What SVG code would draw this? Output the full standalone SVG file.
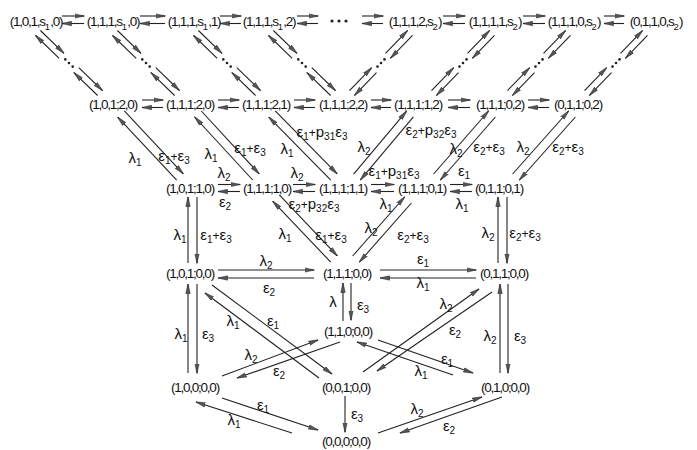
<svg xmlns="http://www.w3.org/2000/svg" xmlns:xlink="http://www.w3.org/1999/xlink" width="697" height="450" viewBox="0 0 697 450">
<style>
.n{font-family:"Liberation Sans",Arial,sans-serif;font-size:13.5px;letter-spacing:-1.25px;fill:#111;text-anchor:middle}
.ns{font-size:9.5px;letter-spacing:0}
.g{font-family:"Liberation Sans",Arial,sans-serif;font-size:15px;fill:#111;text-anchor:middle}
.s{font-size:10px}
.p{font-size:12px}
line{stroke:#222;stroke-width:1.1;fill:none}
circle{fill:#222}
</style>
<defs>
<marker id="a" markerUnits="userSpaceOnUse" markerWidth="10" markerHeight="6" viewBox="0 0 10 6" refX="9.5" refY="3" orient="auto"><path d="M0,0.8 L10,3 L0,5.2 Z" fill="#555" stroke="#222" stroke-width="0.5"/></marker>
<g id="dl">
<line x1="21.2" y1="25.3" x2="-2.4" y2="2.5" marker-end="url(#a)"/>
<line x1="59.6" y1="62.5" x2="36" y2="39.7" marker-end="url(#a)"/>
<line x1="2.4" y1="-2.5" x2="26" y2="20.3" marker-end="url(#a)"/>
<line x1="40.8" y1="34.7" x2="64.4" y2="57.5" marker-end="url(#a)"/>
<circle cx="27.3" cy="26.4" r="1.3"/><circle cx="31" cy="30" r="1.3"/><circle cx="34.7" cy="33.6" r="1.3"/>
</g>
<g id="dr">
<line x1="-24.5" y1="20.4" x2="-2.5" y2="-2.4" marker-end="url(#a)"/>
<line x1="-60.5" y1="57.6" x2="-38.5" y2="34.8" marker-end="url(#a)"/>
<line x1="2.5" y1="2.4" x2="-19.5" y2="25.2" marker-end="url(#a)"/>
<line x1="-33.5" y1="39.6" x2="-55.5" y2="62.4" marker-end="url(#a)"/>
<circle cx="-25.5" cy="26.4" r="1.3"/><circle cx="-29" cy="30" r="1.3"/><circle cx="-32.5" cy="33.6" r="1.3"/>
</g>
</defs>
<rect width="697" height="450" fill="#fff"/>

<g id="connectors">
<line x1="62" y1="16" x2="84" y2="16" marker-end="url(#a)"/><line x1="84" y1="23.5" x2="62" y2="23.5" marker-end="url(#a)"/>
<line x1="140" y1="16" x2="165" y2="16" marker-end="url(#a)"/><line x1="165" y1="23.5" x2="140" y2="23.5" marker-end="url(#a)"/>
<line x1="220" y1="16" x2="241" y2="16" marker-end="url(#a)"/><line x1="241" y1="23.5" x2="220" y2="23.5" marker-end="url(#a)"/>
<line x1="297" y1="16" x2="318" y2="16" marker-end="url(#a)"/><line x1="318" y1="23.5" x2="297" y2="23.5" marker-end="url(#a)"/>
<line x1="362" y1="16" x2="383" y2="16" marker-end="url(#a)"/><line x1="383" y1="23.5" x2="362" y2="23.5" marker-end="url(#a)"/>
<line x1="443" y1="16" x2="465" y2="16" marker-end="url(#a)"/><line x1="465" y1="23.5" x2="443" y2="23.5" marker-end="url(#a)"/>
<line x1="523" y1="16" x2="545" y2="16" marker-end="url(#a)"/><line x1="545" y1="23.5" x2="523" y2="23.5" marker-end="url(#a)"/>
<line x1="604" y1="16" x2="624" y2="16" marker-end="url(#a)"/><line x1="624" y1="23.5" x2="604" y2="23.5" marker-end="url(#a)"/>
<use xlink:href="#dl" transform="translate(38,33)"/>
<use xlink:href="#dl" transform="translate(115,33)"/>
<use xlink:href="#dl" transform="translate(196,33)"/>
<use xlink:href="#dl" transform="translate(271,33)"/>
<use xlink:href="#dr" transform="translate(410,33)"/>
<use xlink:href="#dr" transform="translate(492,33)"/>
<use xlink:href="#dr" transform="translate(568,33)"/>
<use xlink:href="#dr" transform="translate(645,33)"/>
<line x1="142" y1="100" x2="163" y2="100" marker-end="url(#a)"/><line x1="163" y1="107.5" x2="142" y2="107.5" marker-end="url(#a)"/>
<line x1="218" y1="100" x2="239" y2="100" marker-end="url(#a)"/><line x1="239" y1="107.5" x2="218" y2="107.5" marker-end="url(#a)"/>
<line x1="294" y1="100" x2="315" y2="100" marker-end="url(#a)"/><line x1="315" y1="107.5" x2="294" y2="107.5" marker-end="url(#a)"/>
<line x1="371" y1="100" x2="391" y2="100" marker-end="url(#a)"/><line x1="391" y1="107.5" x2="371" y2="107.5" marker-end="url(#a)"/>
<line x1="448" y1="100" x2="470" y2="100" marker-end="url(#a)"/><line x1="470" y1="107.5" x2="448" y2="107.5" marker-end="url(#a)"/>
<line x1="528" y1="100" x2="549" y2="100" marker-end="url(#a)"/><line x1="549" y1="107.5" x2="528" y2="107.5" marker-end="url(#a)"/>
<line x1="176.7" y1="180.1" x2="117.7" y2="117.1" marker-end="url(#a)"/><line x1="124.3" y1="110.9" x2="183.3" y2="173.9" marker-end="url(#a)"/>
<line x1="252.7" y1="180" x2="194.7" y2="117" marker-end="url(#a)"/><line x1="201.3" y1="111" x2="259.3" y2="174" marker-end="url(#a)"/>
<line x1="330.8" y1="180.1" x2="268.8" y2="117.1" marker-end="url(#a)"/><line x1="275.2" y1="110.9" x2="337.2" y2="173.9" marker-end="url(#a)"/>
<line x1="353.6" y1="174.1" x2="406.6" y2="111.1" marker-end="url(#a)"/><line x1="413.4" y1="116.9" x2="360.4" y2="179.9" marker-end="url(#a)"/>
<line x1="433.6" y1="174" x2="488.6" y2="111" marker-end="url(#a)"/><line x1="495.4" y1="117" x2="440.4" y2="180" marker-end="url(#a)"/>
<line x1="512.6" y1="174" x2="568.6" y2="111" marker-end="url(#a)"/><line x1="575.4" y1="117" x2="519.4" y2="180" marker-end="url(#a)"/>
<line x1="218" y1="184.5" x2="240" y2="184.5" marker-end="url(#a)"/><line x1="240" y1="191.5" x2="218" y2="191.5" marker-end="url(#a)"/>
<line x1="293" y1="184.5" x2="315" y2="184.5" marker-end="url(#a)"/><line x1="315" y1="191.5" x2="293" y2="191.5" marker-end="url(#a)"/>
<line x1="371" y1="184.5" x2="394" y2="184.5" marker-end="url(#a)"/><line x1="394" y1="191.5" x2="371" y2="191.5" marker-end="url(#a)"/>
<line x1="450" y1="184.5" x2="472" y2="184.5" marker-end="url(#a)"/><line x1="472" y1="191.5" x2="450" y2="191.5" marker-end="url(#a)"/>
<line x1="188" y1="263" x2="188" y2="197" marker-end="url(#a)"/><line x1="197" y1="197" x2="197" y2="263" marker-end="url(#a)"/>
<line x1="330.7" y1="262.1" x2="272.7" y2="201.1" marker-end="url(#a)"/><line x1="279.3" y1="194.9" x2="337.3" y2="255.9" marker-end="url(#a)"/>
<line x1="352.6" y1="256" x2="404.6" y2="197" marker-end="url(#a)"/><line x1="411.4" y1="203" x2="359.4" y2="262" marker-end="url(#a)"/>
<line x1="498" y1="263" x2="498" y2="197" marker-end="url(#a)"/><line x1="507" y1="197" x2="507" y2="263" marker-end="url(#a)"/>
<line x1="218" y1="270" x2="314" y2="270" marker-end="url(#a)"/><line x1="314" y1="278" x2="218" y2="278" marker-end="url(#a)"/>
<line x1="380" y1="270" x2="476" y2="270" marker-end="url(#a)"/><line x1="476" y1="278" x2="380" y2="278" marker-end="url(#a)"/>
<line x1="343" y1="321" x2="343" y2="283" marker-end="url(#a)"/><line x1="351" y1="283" x2="351" y2="320" marker-end="url(#a)"/>
<line x1="188" y1="373" x2="188" y2="284" marker-end="url(#a)"/><line x1="197" y1="284" x2="197" y2="373" marker-end="url(#a)"/>
<line x1="500" y1="373" x2="500" y2="284" marker-end="url(#a)"/><line x1="508" y1="284" x2="508" y2="373" marker-end="url(#a)"/>
<line x1="212" y1="285" x2="332" y2="374" marker-end="url(#a)"/><line x1="319" y1="378" x2="205" y2="293" marker-end="url(#a)"/>
<line x1="363" y1="372" x2="479" y2="289" marker-end="url(#a)"/><line x1="492" y1="292" x2="377" y2="371" marker-end="url(#a)"/>
<line x1="222" y1="376" x2="318" y2="340" marker-end="url(#a)"/><line x1="340" y1="342" x2="237" y2="378" marker-end="url(#a)"/>
<line x1="378" y1="340" x2="473" y2="373" marker-end="url(#a)"/><line x1="453" y1="375" x2="357" y2="342" marker-end="url(#a)"/>
<line x1="222" y1="398" x2="318" y2="430" marker-end="url(#a)"/><line x1="292" y1="433" x2="196" y2="402" marker-end="url(#a)"/>
<line x1="378" y1="433" x2="482" y2="397" marker-end="url(#a)"/><line x1="502" y1="397" x2="400" y2="433" marker-end="url(#a)"/>
<line x1="345" y1="396" x2="345" y2="432" marker-end="url(#a)"/>
</g>

<g id="n101s10"><text class="n" x="36" y="26">(1,0,1,s<tspan class="ns" dy="4">1</tspan><tspan dy="-4">,0)</tspan></text></g>
<g id="n111s10"><text class="n" x="113" y="26">(1,1,1,s<tspan class="ns" dy="4">1</tspan><tspan dy="-4">,0)</tspan></text></g>
<g id="n111s11"><text class="n" x="194" y="26">(1,1,1,s<tspan class="ns" dy="4">1</tspan><tspan dy="-4">,1)</tspan></text></g>
<g id="n111s12"><text class="n" x="269" y="26">(1,1,1,s<tspan class="ns" dy="4">1</tspan><tspan dy="-4">,2)</tspan></text></g>
<g id="ellipsis"><circle cx="332" cy="21" r="1.6"/><circle cx="339" cy="21" r="1.6"/><circle cx="346" cy="21" r="1.6"/></g>
<g id="n1112s2"><text class="n" x="415" y="26">(1,1,1,2,s<tspan class="ns" dy="4">2</tspan><tspan dy="-4">)</tspan></text></g>
<g id="n1111s2"><text class="n" x="495" y="26">(1,1,1,1,s<tspan class="ns" dy="4">2</tspan><tspan dy="-4">)</tspan></text></g>
<g id="n1110s2"><text class="n" x="574" y="26">(1,1,1,0,s<tspan class="ns" dy="4">2</tspan><tspan dy="-4">)</tspan></text></g>
<g id="n0110s2"><text class="n" x="656" y="26">(0,1,1,0,s<tspan class="ns" dy="4">2</tspan><tspan dy="-4">)</tspan></text></g>

<g id="n101_20"><text class="n" x="113" y="109">(1,0,1;2,0)</text></g>
<g id="n111_20"><text class="n" x="190" y="109">(1,1,1;2,0)</text></g>
<g id="n111_21"><text class="n" x="266" y="109">(1,1,1;2,1)</text></g>
<g id="n111_22"><text class="n" x="343" y="109">(1,1,1;2,2)</text></g>
<g id="n111_12"><text class="n" x="418" y="109">(1,1,1;1,2)</text></g>
<g id="n111_02"><text class="n" x="500" y="109">(1,1,1;0,2)</text></g>
<g id="n011_02"><text class="n" x="578" y="109">(0,1,1;0,2)</text></g>

<g id="n101_10"><text class="n" x="190" y="193">(1,0,1;1,0)</text></g>
<g id="n111_10"><text class="n" x="267" y="193">(1,1,1;1,0)</text></g>
<g id="n111_11"><text class="n" x="343" y="193">(1,1,1;1,1)</text></g>
<g id="n111_01"><text class="n" x="422" y="193">(1,1,1;0,1)</text></g>
<g id="n011_01"><text class="n" x="499" y="193">(0,1,1;0,1)</text></g>

<g id="n101_00"><text class="n" x="190" y="278">(1,0,1;0,0)</text></g>
<g id="n111_00"><text class="n" x="347" y="278">(1,1,1;0,0)</text></g>
<g id="n011_00"><text class="n" x="504" y="278">(0,1,1;0,0)</text></g>
<g id="n110_00"><text class="n" x="348" y="336">(1,1,0;0,0)</text></g>
<g id="n100_00"><text class="n" x="195" y="392">(1,0,0;0,0)</text></g>
<g id="n001_00"><text class="n" x="346" y="392">(0,0,1;0,0)</text></g>
<g id="n010_00"><text class="n" x="505" y="392">(0,1,0;0,0)</text></g>
<g id="n000_00"><text class="n" x="346" y="446">(0,0,0;0,0)</text></g>

<g id="labels">
<text class="g" x="135" y="163">λ<tspan class="s" dy="3">1</tspan></text>
<text class="g" x="174" y="161">ε<tspan class="s" dy="3">1</tspan><tspan class="p" dy="-3">+</tspan>ε<tspan class="s" dy="3">3</tspan></text>
<text class="g" x="211" y="159">λ<tspan class="s" dy="3">1</tspan></text>
<text class="g" x="250" y="153">ε<tspan class="s" dy="3">1</tspan><tspan class="p" dy="-3">+</tspan>ε<tspan class="s" dy="3">3</tspan></text>
<text class="g" x="287" y="154">λ<tspan class="s" dy="3">1</tspan></text>
<text class="g" x="322" y="137">ε<tspan class="s" dy="3">1</tspan><tspan class="p" dy="-3">+</tspan>p<tspan class="s" dy="3">31</tspan><tspan dy="-3">ε</tspan><tspan class="s" dy="3">3</tspan></text>
<text class="g" x="364" y="152">λ<tspan class="s" dy="3">2</tspan></text>
<text class="g" x="431" y="135">ε<tspan class="s" dy="3">2</tspan><tspan class="p" dy="-3">+</tspan>p<tspan class="s" dy="3">32</tspan><tspan dy="-3">ε</tspan><tspan class="s" dy="3">3</tspan></text>
<text class="g" x="456" y="154">λ<tspan class="s" dy="3">2</tspan></text>
<text class="g" x="489" y="152">ε<tspan class="s" dy="3">2</tspan><tspan class="p" dy="-3">+</tspan>ε<tspan class="s" dy="3">3</tspan></text>
<text class="g" x="523" y="152">λ<tspan class="s" dy="3">2</tspan></text>
<text class="g" x="568" y="152">ε<tspan class="s" dy="3">2</tspan><tspan class="p" dy="-3">+</tspan>ε<tspan class="s" dy="3">3</tspan></text>

<text class="g" x="224" y="178">λ<tspan class="s" dy="3">2</tspan></text>
<text class="g" x="225" y="207">ε<tspan class="s" dy="3">2</tspan></text>
<text class="g" x="297" y="178">λ<tspan class="s" dy="3">2</tspan></text>
<text class="g" x="314" y="209">ε<tspan class="s" dy="3">2</tspan><tspan class="p" dy="-3">+</tspan>p<tspan class="s" dy="3">32</tspan><tspan dy="-3">ε</tspan><tspan class="s" dy="3">3</tspan></text>
<text class="g" x="394" y="176">ε<tspan class="s" dy="3">1</tspan><tspan class="p" dy="-3">+</tspan>p<tspan class="s" dy="3">31</tspan><tspan dy="-3">ε</tspan><tspan class="s" dy="3">3</tspan></text>
<text class="g" x="386" y="209">λ<tspan class="s" dy="3">1</tspan></text>
<text class="g" x="464" y="176">ε<tspan class="s" dy="3">1</tspan></text>
<text class="g" x="462" y="209">λ<tspan class="s" dy="3">1</tspan></text>

<text class="g" x="180" y="240">λ<tspan class="s" dy="3">1</tspan></text>
<text class="g" x="216" y="240">ε<tspan class="s" dy="3">1</tspan><tspan class="p" dy="-3">+</tspan>ε<tspan class="s" dy="3">3</tspan></text>
<text class="g" x="285" y="239">λ<tspan class="s" dy="3">1</tspan></text>
<text class="g" x="331" y="240">ε<tspan class="s" dy="3">1</tspan><tspan class="p" dy="-3">+</tspan>ε<tspan class="s" dy="3">3</tspan></text>
<text class="g" x="371" y="233">λ<tspan class="s" dy="3">2</tspan></text>
<text class="g" x="413" y="240">ε<tspan class="s" dy="3">2</tspan><tspan class="p" dy="-3">+</tspan>ε<tspan class="s" dy="3">3</tspan></text>
<text class="g" x="488" y="238">λ<tspan class="s" dy="3">2</tspan></text>
<text class="g" x="525" y="238">ε<tspan class="s" dy="3">2</tspan><tspan class="p" dy="-3">+</tspan>ε<tspan class="s" dy="3">3</tspan></text>

<text class="g" x="266" y="266">λ<tspan class="s" dy="3">2</tspan></text>
<text class="g" x="269" y="293">ε<tspan class="s" dy="3">2</tspan></text>
<text class="g" x="423" y="264">ε<tspan class="s" dy="3">1</tspan></text>
<text class="g" x="423" y="288">λ<tspan class="s" dy="3">1</tspan></text>

<text class="g" x="333" y="307">λ</text>
<text class="g" x="363" y="310">ε<tspan class="s" dy="3">3</tspan></text>
<text class="g" x="181" y="339">λ<tspan class="s" dy="3">1</tspan></text>
<text class="g" x="208" y="339">ε<tspan class="s" dy="3">3</tspan></text>
<text class="g" x="490" y="341">λ<tspan class="s" dy="3">2</tspan></text>
<text class="g" x="520" y="341">ε<tspan class="s" dy="3">3</tspan></text>
<text class="g" x="233" y="326">λ<tspan class="s" dy="3">1</tspan></text>
<text class="g" x="273" y="326">ε<tspan class="s" dy="3">1</tspan></text>
<text class="g" x="446" y="309">λ<tspan class="s" dy="3">2</tspan></text>
<text class="g" x="455" y="335">ε<tspan class="s" dy="3">2</tspan></text>
<text class="g" x="251" y="360">λ<tspan class="s" dy="3">2</tspan></text>
<text class="g" x="279" y="376">ε<tspan class="s" dy="3">2</tspan></text>
<text class="g" x="447" y="364">ε<tspan class="s" dy="3">1</tspan></text>
<text class="g" x="421" y="376">λ<tspan class="s" dy="3">1</tspan></text>
<text class="g" x="263" y="410">ε<tspan class="s" dy="3">1</tspan></text>
<text class="g" x="234" y="425">λ<tspan class="s" dy="3">1</tspan></text>
<text class="g" x="417" y="414">λ<tspan class="s" dy="3">2</tspan></text>
<text class="g" x="449" y="431">ε<tspan class="s" dy="3">2</tspan></text>
<text class="g" x="357" y="419">ε<tspan class="s" dy="3">3</tspan></text>
</g>
</svg>
